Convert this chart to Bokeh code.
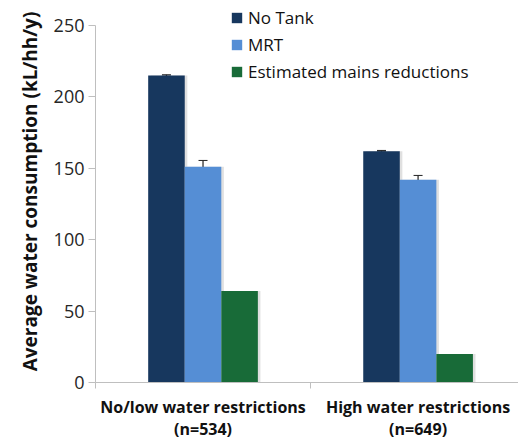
from bokeh.plotting import figure
from bokeh.models import (ColumnDataSource, FixedTicker, Whisker, Legend, LegendItem, Range1d)
from bokeh.transform import dodge
from bokeh.embed import file_html
from bokeh.resources import INLINE

categories = ["No/low water restrictions\n(n=534)", "High water restrictions\n(n=649)"]
series = ["No Tank", "MRT", "Estimated mains reductions"]
no_tank = [215, 162]
mrt = [151, 142]
mains_red = [64, 20]
no_tank_err = [0.5, 0.5]
mrt_err = [4.5, 3]
y_ticks = [0, 50, 100, 150, 200, 250]

colors = ["#17375E", "#558ED5", "#186B38"]
FONT = "Open Sans"

xc = [i + 0.5 for i in range(len(categories))]
src = ColumnDataSource(dict(
    x=xc, no_tank=no_tank, mrt=mrt, mains=mains_red,
    nt_lo=[v - e for v, e in zip(no_tank, no_tank_err)],
    nt_hi=[v + e for v, e in zip(no_tank, no_tank_err)],
    mrt_lo=[v - e for v, e in zip(mrt, mrt_err)],
    mrt_hi=[v + e for v, e in zip(mrt, mrt_err)],
))

p = figure(width=502, height=425, output_backend="svg", toolbar_location=None,
           x_range=Range1d(0, 1.967), y_range=Range1d(0, 267.5),
           min_border_left=95, min_border_right=0, min_border_top=0, min_border_bottom=0)
p.frame_width = 423
p.frame_height = 382
p.outline_line_color = None
p.xgrid.grid_line_color = None
p.ygrid.grid_line_color = None
p.background_fill_color = "white"
p.border_fill_color = "white"

bw = 0.17
offs = [-bw, 0, bw]
vals = ["no_tank", "mrt", "mains"]
renderers = []
# shadows
for o, v in zip(offs, vals):
    p.vbar(x=dodge("x", o + 0.012, range=p.x_range), top=v, width=bw, bottom=0,
           source=src, fill_color="#000000", fill_alpha=0.12, line_color=None)
for o, v, c in zip(offs, vals, colors):
    r = p.vbar(x=dodge("x", o, range=p.x_range), top=v, width=bw, bottom=0,
               source=src, fill_color=c, line_color=None)
    renderers.append(r)

for o, lo, hi in [(-bw, "nt_lo", "nt_hi"), (0, "mrt_lo", "mrt_hi")]:
    w = Whisker(base=dodge("x", o, range=p.x_range), lower=lo, upper=hi, source=src,
                line_color="#222222", line_width=1.2)
    w.upper_head.size = 9
    w.lower_head.size = 9
    w.upper_head.line_color = "#222222"
    w.lower_head.line_color = "#222222"
    p.add_layout(w)

# y axis
ya = p.yaxis[0]
ya.ticker = FixedTicker(ticks=y_ticks)
ya.bounds = (0, 250)
ya.axis_line_color = "#BFBFBF"
ya.major_tick_line_color = "#BFBFBF"
ya.major_tick_out = 7
ya.major_tick_in = 0
ya.minor_tick_line_color = None
ya.major_label_text_font = FONT
ya.major_label_text_font_size = "18px"
ya.major_label_text_color = "#262626"
ya.major_label_standoff = 4
ya.axis_label = "Average water consumption (kL/hh/y)"
ya.axis_label_text_font = FONT
ya.axis_label_text_font_size = "19px"
ya.axis_label_text_font_style = "bold"
ya.axis_label_text_color = "#111111"
ya.axis_label_standoff = 8

# x axis
xa = p.xaxis[0]
xa.ticker = FixedTicker(ticks=xc, minor_ticks=[0, 1, 2])
xa.major_label_overrides = {x: c for x, c in zip(xc, categories)}
xa.axis_line_color = "#BFBFBF"
xa.major_tick_line_color = None
xa.minor_tick_line_color = "#BFBFBF"
xa.minor_tick_out = 6
xa.minor_tick_in = 0
xa.major_label_text_font = FONT
xa.major_label_text_font_size = "16px"
xa.major_label_text_font_style = "bold"
xa.major_label_text_color = "#111111"
xa.major_label_text_line_height = 1.0
xa.major_label_standoff = 7

legend = Legend(items=[LegendItem(label=s, renderers=[r]) for s, r in zip(series, renderers)],
                location=(135, 299))
legend.glyph_width = 13
legend.glyph_height = 13
legend.label_height = 13
legend.spacing = 4
legend.padding = 0
legend.margin = 0
legend.label_standoff = 5
legend.border_line_color = None
legend.background_fill_alpha = 0
legend.label_text_font = FONT
legend.label_text_font_size = "17px"
legend.label_text_color = "#111111"
p.add_layout(legend, "center")

open("out.html", "w").write(file_html(p, INLINE))
